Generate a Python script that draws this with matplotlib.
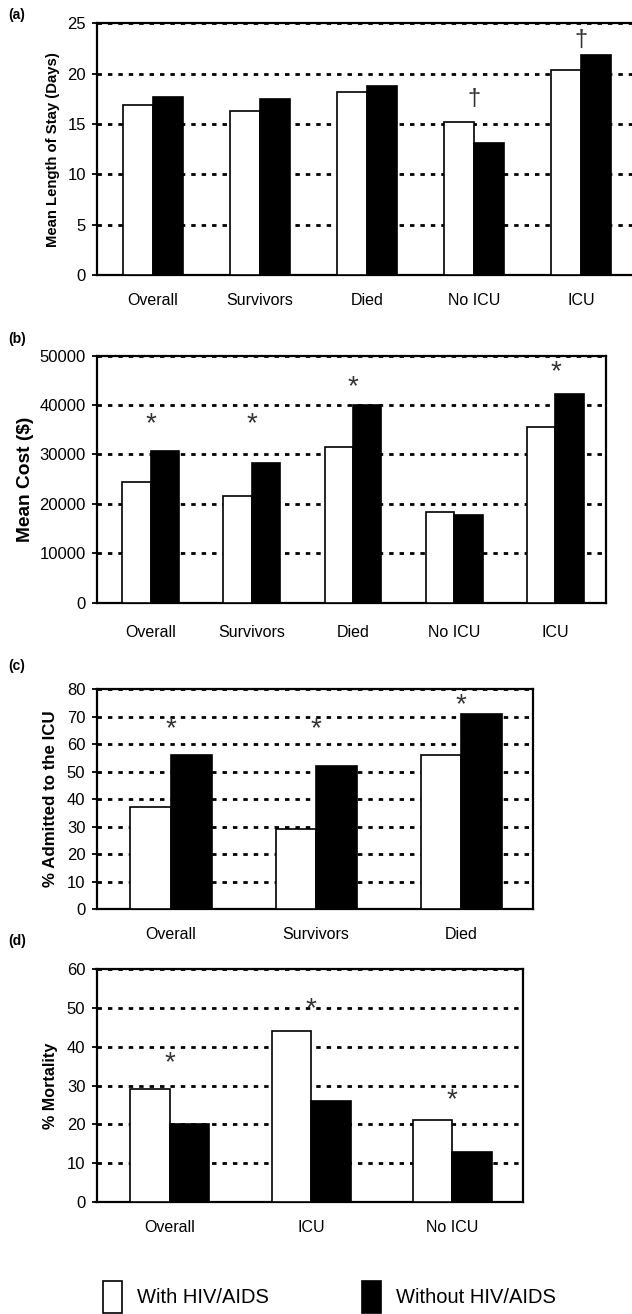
import numpy as np
from matplotlib import pyplot as plt
from matplotlib import transforms
from matplotlib.patches import Patch

plt.rcParams['font.family'] = ['Liberation Sans', 'DejaVu Sans']

W, H = 632, 1314

# (a) mean length of stay
los_groups = ['Overall', 'Survivors', 'Died', 'No ICU', 'ICU']
los_hiv = [16.9, 16.3, 18.2, 15.2, 20.4]
los_nohiv = [17.7, 17.5, 18.8, 13.1, 21.9]
los_marks = ['', '', '', '\u2020', '\u2020']
los_mark_y = [0, 0, 0, 17.5, 23.3]

# (b) mean cost
cost_groups = ['Overall', 'Survivors', 'Died', 'No ICU', 'ICU']
cost_hiv = [24500, 21500, 31500, 18400, 35600]
cost_nohiv = [30700, 28300, 40000, 17800, 42200]
cost_marks = ['*', '*', '*', '', '*']
cost_mark_y = [36900, 36900, 44400, 0, 47500]

# (c) % admitted to ICU
icu_groups = ['Overall', 'Survivors', 'Died']
icu_hiv = [37, 29, 56]
icu_nohiv = [56, 52, 71]
icu_marks = ['*', '*', '*']
icu_mark_y = [67, 67, 75.7]

# (d) % mortality
mort_groups = ['Overall', 'ICU', 'No ICU']
mort_hiv = [29, 44, 21]
mort_nohiv = [20, 26, 13]
mort_marks = ['*', '*', '*']
mort_mark_y = [36.7, 50.8, 27.2]

fig = plt.figure(figsize=(W / 100, H / 100), dpi=100)


def panel(px, groups, hiv, nohiv, yticks, xlim, ylabel, ylsize, ylx,
          marks, mark_y, xpad, letter, lety, right_spine=True):
    left, right, top, bottom = px
    ax = fig.add_axes([left / W, 1 - bottom / H, (right - left) / W, (bottom - top) / H])
    x = np.arange(len(groups))
    bw = 0.28
    ax.bar(x - bw / 2, hiv, bw, color='white', edgecolor='black', linewidth=1.2, zorder=3)
    ax.bar(x + bw / 2, nohiv, bw, color='black', edgecolor='black', linewidth=1.2, zorder=3)
    ax.set_xlim(xlim)
    ax.set_ylim(yticks[0], yticks[-1])
    ax.set_yticks(yticks)
    ax.set_axisbelow(True)
    ax.yaxis.grid(True, linestyle=(0, (1.6, 2.15)), color='black', linewidth=2)
    ax.set_xticks(x)
    ax.set_xticklabels(groups, fontsize=11.5)
    ax.tick_params(axis='x', length=0, pad=xpad)
    ax.tick_params(axis='y', length=3.5, width=1.3, pad=4.5, labelsize=12, direction='out')
    for s in ax.spines.values():
        s.set_linewidth(1.6)
    if not right_spine:
        ax.spines['right'].set_visible(False)
    # shift marks a few pixels down so the glyph ink sits on the read value
    tr = transforms.offset_copy(ax.transData, fig=fig, y=-4, units='dots')
    for xi, m, my in zip(x, marks, mark_y):
        if m == '*':
            ax.text(xi, my, m, ha='center', va='center', fontsize=20,
                    color='#333333', transform=tr)
        elif m:
            ax.text(xi, my, m, ha='center', va='center', fontsize=17, color='#333333')
    ax.text((ylx - left) / (right - left), 0.5, ylabel, transform=ax.transAxes,
            rotation=90, ha='center', va='center', fontsize=ylsize, fontweight='bold')
    fig.text(8 / W, 1 - lety / H, letter, fontsize=10, fontweight='bold', va='center')
    return ax


panel((96.9, 637, 23.3, 275), los_groups, los_hiv, los_nohiv, [0, 5, 10, 15, 20, 25],
      (-0.52, 4.52), 'Mean Length of Stay (Days)', 10.7, 53,
      los_marks, los_mark_y, 13, '(a)', 15.5, right_spine=False)

panel((96.7, 606, 355.5, 602.7), cost_groups, cost_hiv, cost_nohiv,
      [0, 10000, 20000, 30000, 40000, 50000], (-0.533, 4.50), 'Mean Cost ($)', 13.8, 25,
      cost_marks, cost_mark_y, 16, '(b)', 339)

panel((96.5, 533, 689, 909.3), icu_groups, icu_hiv, icu_nohiv,
      [0, 10, 20, 30, 40, 50, 60, 70, 80], (-0.514, 2.495), '% Admitted to the ICU', 12.2, 51,
      icu_marks, icu_mark_y, 12.5, '(c)', 666)

panel((96.5, 523, 969, 1202), mort_groups, mort_hiv, mort_nohiv,
      [0, 10, 20, 30, 40, 50, 60], (-0.52, 2.50), '% Mortality', 11.6, 51,
      mort_marks, mort_mark_y, 13, '(d)', 941)

handles = [Patch(facecolor='white', edgecolor='black', linewidth=1.2),
           Patch(facecolor='black', edgecolor='black', linewidth=1.2)]
fig.legend(handles, ['With HIV/AIDS', 'Without HIV/AIDS'], loc='center left',
           bbox_to_anchor=(103 / W, 1 - 1297 / H), ncol=2, frameon=False, fontsize=14.5,
           handlelength=0.95, handleheight=2.1, handletextpad=0.75, columnspacing=4.6,
           borderpad=0, borderaxespad=0)

fig.savefig('out.png', dpi=100)
